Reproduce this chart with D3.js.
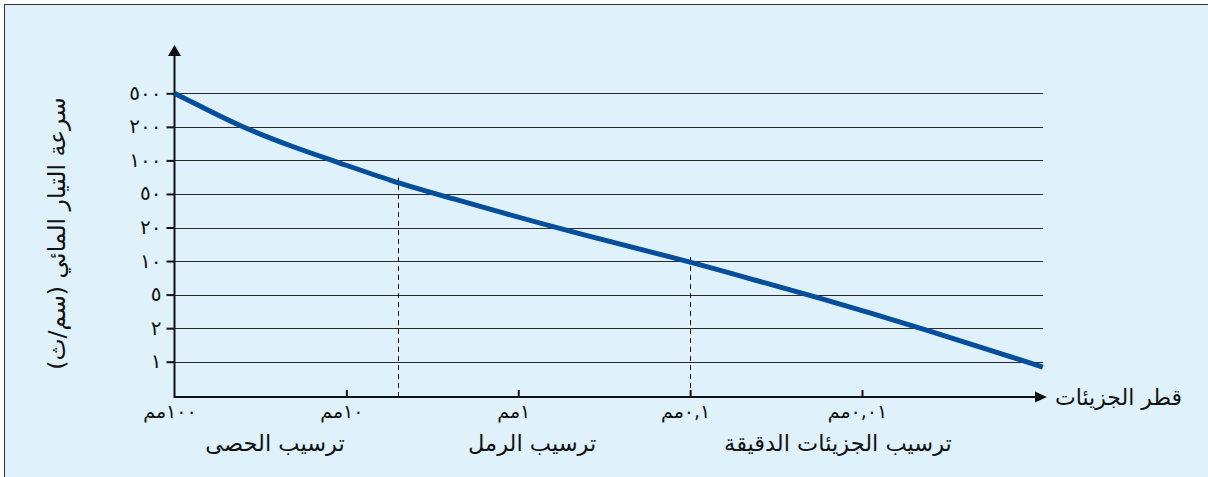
<!DOCTYPE html>
<html><head><meta charset="utf-8">
<script src="https://cdn.jsdelivr.net/npm/d3@7"></script>
<style>html,body{margin:0;padding:0;background:#fff;} svg{display:block;}</style>
</head><body>
<svg id="chart" width="1208" height="477"></svg>
<script>
// ---- data ----
const yTickValues = [1, 2, 5, 10, 20, 50, 100, 200, 500];
const yTickLabels = ["١", "٢", "٥", "١٠", "٢٠", "٥٠", "١٠٠", "٢٠٠", "٥٠٠"];
const xTickValues = [100, 10, 1, 0.1, 0.01];
const xTickLabels = ["١٠٠مم", "١٠مم", "١مم", "٠,١مم", "٠,٠١مم"];
const curveDiameter = [100, 71, 40, 20.5, 11.3, 5.36, 2.85, 0.595, 0.1, 0.0393, 0.0201, 0.00443, 0.000887];
const curveVelocity = [500, 353, 197, 132, 96.7, 64.6, 48.6, 19.6, 9.9, 6.55, 4.92, 1.985, 0.895];
const dividerDiameter = [5, 0.1];
const dividerVelocity = [70, 11];
const zoneLabels = ["ترسيب الحصى", "ترسيب الرمل", "ترسيب الجزيئات الدقيقة"];
const zoneDiameter = [26, 0.83, 0.0138];
const yTitle = "سرعة التيار المائي (سم/ث)";
const xTitle = "قطر الجزيئات";

// ---- layout ----
const W = 1208, H = 477;
const x0 = 174.5, xTick4 = 862, xEnd = 1047, gridEnd = 1043;
const yTopGrid = 93.3, yBotGrid = 361.7, axisY = 397, yArrowTip = 45;
const FONT = "'DejaVu Sans', 'Noto Sans', sans-serif";

const svg = d3.select("#chart");

// background panel with left/top border
svg.append("rect").attr("x", 4.5).attr("y", 4.5).attr("width", W + 20).attr("height", H + 20)
  .attr("fill", "#dff1fb").attr("stroke", "#333").attr("stroke-width", 1);

const x = d3.scaleLog().domain([100, 0.01]).range([x0, xTick4]);
const yRange = yTickValues.map((d, i) => yBotGrid - i * (yBotGrid - yTopGrid) / (yTickValues.length - 1));
const y = d3.scaleLog().domain(yTickValues).range(yRange);

// gridlines
svg.append("g").selectAll("line").data(yTickValues).join("line")
  .attr("x1", x0).attr("x2", gridEnd)
  .attr("y1", d => Math.round(y(d)) + 0.5).attr("y2", d => Math.round(y(d)) + 0.5)
  .attr("stroke", "#2a2a2a").attr("stroke-width", 1);

// dashed dividers
svg.append("g").selectAll("line").data(dividerDiameter).join("line")
  .attr("x1", d => Math.round(x(d)) + 0.5).attr("x2", d => Math.round(x(d)) + 0.5)
  .attr("y1", axisY).attr("y2", (d, i) => y(dividerVelocity[i]))
  .attr("stroke", "#111").attr("stroke-width", 1).attr("stroke-dasharray", "5,4");

// y axis ticks + labels
const yAxis = d3.axisLeft(y).tickValues(yTickValues)
  .tickFormat((d, i) => yTickLabels[i]).tickSize(8).tickPadding(5);
const gy = svg.append("g").attr("transform", `translate(${x0},0)`).call(yAxis);
gy.select(".domain").remove();
gy.selectAll(".tick line").attr("stroke", "#111").attr("stroke-width", 2);
gy.selectAll(".tick text").attr("font-family", FONT).attr("font-size", 20).attr("fill", "#111")
  .attr("letter-spacing", 4).attr("dy", "0.3em");

// x axis ticks + labels
const xAxis = d3.axisBottom(x).tickValues(xTickValues)
  .tickFormat((d, i) => xTickLabels[i]).tickSize(-7).tickPadding(6);
const gx = svg.append("g").attr("transform", `translate(0,${axisY})`).call(xAxis);
gx.select(".domain").remove();
gx.selectAll(".tick").filter(d => d === 100).select("line").remove();
gx.selectAll(".tick line").attr("stroke", "#111").attr("stroke-width", 2).attr("y1", -1);
gx.selectAll(".tick text").attr("font-family", FONT).attr("font-size", 19).attr("fill", "#111")
  .attr("direction", "rtl").attr("y", 21).attr("dy", 0).attr("dx", -5);

// axis lines
svg.append("line").attr("x1", x0).attr("x2", xEnd - 10).attr("y1", axisY).attr("y2", axisY)
  .attr("stroke", "#111").attr("stroke-width", 2);
svg.append("line").attr("x1", x0).attr("x2", x0).attr("y1", axisY + 1).attr("y2", yArrowTip + 10)
  .attr("stroke", "#111").attr("stroke-width", 2);
// arrowheads
svg.append("path").attr("d", `M${xEnd},${axisY} L${xEnd - 12},${axisY - 5.5} L${xEnd - 12},${axisY + 5.5} Z`).attr("fill", "#111");
svg.append("path").attr("d", `M${x0},${yArrowTip} L${x0 - 6.5},${yArrowTip + 11} L${x0 + 6.5},${yArrowTip + 11} Z`).attr("fill", "#111");

// curve
const pts = curveDiameter.map((d, i) => [x(d), y(curveVelocity[i])]);
svg.append("path").attr("d", d3.line().curve(d3.curveBasis)(pts))
  .attr("fill", "none").attr("stroke", "#044e9c").attr("stroke-width", 5).attr("stroke-linecap", "butt");

// zone labels
svg.append("g").selectAll("text").data(zoneLabels).join("text")
  .attr("x", (d, i) => x(zoneDiameter[i])).attr("y", 451)
  .attr("text-anchor", "middle").attr("direction", "rtl")
  .attr("font-family", FONT).attr("font-size", 22.5).attr("fill", "#111")
  .text(d => d);

// x title
svg.append("text").attr("x", 1055).attr("y", 405).attr("direction", "rtl").attr("text-anchor", "end")
  .attr("font-family", FONT).attr("font-size", 22).attr("fill", "#111").text(xTitle);

// y title
svg.append("text").attr("transform", `translate(65,${(yTopGrid + yBotGrid) / 2 + 6}) rotate(-90)`)
  .attr("direction", "rtl").attr("text-anchor", "middle")
  .attr("font-family", FONT).attr("font-size", 23.5).attr("fill", "#111").text(yTitle);
</script>
</body></html>
